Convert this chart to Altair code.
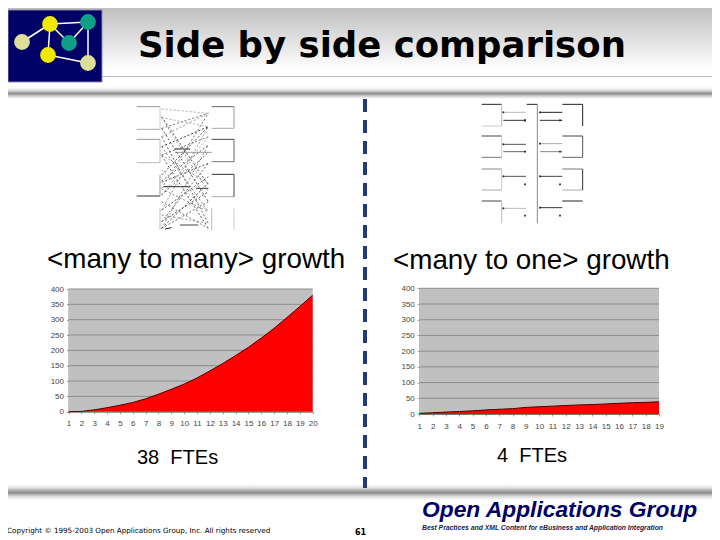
import altair as alt
import pandas as pd

W, H = 704, 532

many_to_many = [0, 1, 6, 13, 21, 30, 42, 57, 73, 90, 110, 133, 157, 183, 210, 240, 272, 307, 343, 380]
many_to_one = [2, 4, 6, 8, 10, 13, 15, 17, 21, 23, 25, 27, 29, 30, 32, 34, 36, 37, 39]
y_ticks = [0, 50, 100, 150, 200, 250, 300, 350, 400]

logo_x = [22, 50, 88, 69, 48, 88]
logo_y = [42, 24, 22, 43, 55, 63]
logo_fill = ["#dede9a", "#f0e800", "#10a088", "#10a088", "#f0e800", "#dede9a"]
logo_edges = [(0, 1), (1, 2), (1, 3), (2, 3), (1, 4), (4, 5), (2, 5)]

# diagram segments: x0, x1, y0, y1, colour (in diagram units)
left_boxes = [
    (20, 90, 35, 35, "#999999"), (20, 90, 103, 103, "#aaaaaa"), (90, 90, 35, 103, "#cccccc"),
    (20, 90, 133, 133, "#999999"), (20, 90, 203, 203, "#bbbbbb"), (90, 90, 133, 203, "#bbbbbb"),
    (20, 90, 303, 303, "#333333"), (90, 90, 240, 303, "#999999"),
    (90, 90, 340, 405, "#bbbbbb"),
    (245, 312, 35, 35, "#666666"), (245, 312, 100, 100, "#aaaaaa"), (312, 312, 35, 100, "#999999"),
    (245, 312, 133, 133, "#444444"), (245, 312, 200, 200, "#777777"), (312, 312, 133, 200, "#666666"),
    (245, 312, 238, 238, "#333333"), (245, 312, 305, 305, "#aaaaaa"), (312, 312, 238, 305, "#444444"),
    (245, 245, 340, 405, "#bbbbbb"), (312, 312, 340, 405, "#cccccc"),
    (135, 180, 162, 162, "#222222"), (135, 245, 172, 172, "#999999"),
    (100, 180, 275, 275, "#222222"), (198, 235, 280, 280, "#333333"),
    (150, 205, 390, 390, "#444444"), (105, 125, 402, 398, "#222222"),
]
left_edges = [
    (95, 235, 42, 55, "#aaaaaa"), (95, 235, 65, 270, "#555555"), (95, 235, 68, 290, "#999999"),
    (95, 235, 68, 95, "#aaaaaa"), (95, 235, 100, 55, "#777777"), (95, 235, 100, 320, "#555555"),
    (95, 235, 125, 55, "#999999"), (95, 235, 125, 385, "#666666"), (95, 235, 155, 95, "#444444"),
    (95, 235, 155, 350, "#888888"), (95, 235, 180, 125, "#777777"), (95, 235, 180, 265, "#999999"),
    (95, 235, 182, 400, "#555555"), (95, 235, 240, 95, "#444444"), (95, 235, 258, 150, "#666666"),
    (95, 235, 262, 205, "#555555"), (95, 235, 280, 55, "#777777"), (95, 235, 282, 350, "#888888"),
    (95, 235, 300, 125, "#aaaaaa"), (95, 235, 300, 172, "#666666"), (95, 235, 345, 245, "#555555"),
    (95, 235, 345, 95, "#999999"), (95, 235, 380, 290, "#444444"), (95, 235, 380, 205, "#777777"),
    (95, 235, 400, 320, "#666666"), (95, 235, 400, 150, "#888888"), (95, 235, 400, 265, "#555555"),
    (95, 235, 360, 385, "#999999"), (95, 235, 320, 400, "#777777"), (95, 235, 225, 350, "#aaaaaa"),
]
right_segments = [
    (20, 80, 28, 28, "#222222"), (20, 80, 93, 93, "#cccccc"), (80, 80, 28, 93, "#bbbbbb"),
    (20, 80, 123, 123, "#444444"), (20, 80, 187, 187, "#777777"), (80, 80, 123, 187, "#cccccc"),
    (20, 80, 222, 222, "#888888"), (20, 80, 285, 285, "#aaaaaa"), (80, 80, 222, 285, "#cccccc"),
    (20, 80, 318, 318, "#444444"), (80, 80, 318, 385, "#bbbbbb"),
    (262, 323, 28, 28, "#222222"), (323, 323, 28, 93, "#222222"),
    (262, 323, 123, 123, "#444444"), (262, 323, 187, 187, "#666666"), (323, 323, 123, 187, "#555555"),
    (262, 323, 222, 222, "#777777"), (262, 323, 285, 285, "#aaaaaa"), (323, 323, 222, 285, "#333333"),
    (262, 323, 318, 318, "#222222"),
    (155, 187, 28, 28, "#222222"), (187, 187, 28, 385, "#888888"),
    (85, 153, 52, 52, "#bbbbbb"), (85, 153, 76, 76, "#333333"),
    (85, 153, 148, 148, "#555555"), (85, 153, 170, 170, "#666666"),
    (85, 153, 244, 244, "#555555"), (85, 153, 340, 340, "#bbbbbb"),
    (195, 262, 52, 52, "#222222"), (195, 262, 76, 76, "#333333"),
    (195, 262, 146, 146, "#aaaaaa"), (195, 262, 170, 170, "#888888"),
    (195, 262, 244, 244, "#444444"), (195, 262, 338, 338, "#333333"),
]
right_dots_x = [85, 150, 85, 150, 85, 150, 150, 85, 150, 195, 255, 195, 255, 195, 255, 195, 255]
right_dots_y = [52, 76, 148, 170, 244, 268, 362, 340, 76, 52, 76, 146, 170, 244, 268, 338, 362]


def px(v):
    return alt.value(v - 8)


def text(t, x, y, size, font="Liberation Sans", weight="normal", style="normal", color="#000000", align="left"):
    return alt.Chart(pd.DataFrame({"t": [t]})).mark_text(
        align=align, baseline="alphabetic", fontSize=size, font=font,
        fontWeight=weight, fontStyle=style, color=color
    ).encode(x=px(x), y=px(y), text="t:N")


def band(y0, y1, stops, color=None):
    return alt.Chart(pd.DataFrame({"a": [0]})).mark_rect(
        color=alt.Gradient(gradient="linear", x1=0, y1=0, x2=0, y2=1,
                           stops=[alt.GradientStop(offset=o, color=c) for o, c in stops])
    ).encode(x=alt.value(0), x2=alt.value(W), y=px(y0), y2=px(y1))


def segments(rows, x_rng, y_rng, dom_x, dom_y, dash=None, width=1.0):
    df = pd.DataFrame(rows, columns=["x0", "x1", "y0", "y1", "c"])
    kw = {"strokeDash": dash} if dash else {}
    return alt.Chart(df).mark_rule(strokeWidth=width, **kw).encode(
        x=alt.X("x0:Q", scale=alt.Scale(domain=dom_x, range=x_rng), axis=None),
        x2="x1:Q",
        y=alt.Y("y0:Q", scale=alt.Scale(domain=dom_y, range=y_rng), axis=None),
        y2="y1:Q",
        color=alt.Color("c:N", scale=None),
    )


def panel(values, x_rng, y_rng, tick_color="#444444"):
    n = len(values)
    xs = list(range(1, n + 1))
    df = pd.DataFrame({"step": xs, "total": values})
    xsc = alt.Scale(domain=[1, n], range=x_rng, nice=False, zero=False)
    ysc = alt.Scale(domain=[0, 400], range=y_rng, nice=False)
    xq = alt.X("step:Q", scale=xsc, axis=None)
    yq = alt.Y("total:Q", scale=ysc, axis=None)
    frame = alt.Chart(pd.DataFrame({"a": [1], "b": [n], "c": [0], "d": [400]})).mark_rect(color="#c0c0c0").encode(
        x=alt.X("a:Q", scale=xsc, axis=None), x2="b:Q",
        y=alt.Y("c:Q", scale=ysc, axis=None), y2="d:Q")
    grid = alt.Chart(pd.DataFrame({"a": [1] * 8, "b": [n] * 8, "total": y_ticks[1:]})).mark_rule(
        color="#8c8c8c", strokeWidth=1).encode(
        x=alt.X("a:Q", scale=xsc, axis=None), x2="b:Q", y=yq)
    area = alt.Chart(df).mark_area(color="#ff0000").encode(x=xq, y=yq)
    line = alt.Chart(df).mark_line(color="#500000", strokeWidth=1).encode(x=xq, y=yq)
    xaxis = alt.Chart(df).mark_point(opacity=0).encode(
        x=alt.X("step:Q", scale=xsc, title=None, axis=alt.Axis(
            orient="bottom", offset=y_rng[0] - H, values=xs, format="d", labelFont="Liberation Sans",
            labelFontSize=8, labelColor=tick_color, labelPadding=6, tickSize=2, tickColor="#999999",
            domainColor="#777777", grid=False, labelFlush=False, labelOverlap=False)),
        y=alt.Y("total:Q", scale=ysc, axis=alt.Axis(
            orient="left", offset=-(x_rng[0]), values=y_ticks, title=None, labelFont="Liberation Sans",
            labelFontSize=8, labelColor=tick_color, labelPadding=3, tickSize=2, tickColor="#999999",
            domainColor="#999999", grid=False, labelFlush=False, labelOverlap=False)),
    )
    return [frame, grid, area, line, xaxis]


# logo
logo_df = pd.DataFrame({"x": logo_x, "y": logo_y, "f": logo_fill})
logo_edge_df = pd.DataFrame([
    {"x0": logo_x[a], "x1": logo_x[b], "y0": logo_y[a], "y1": logo_y[b], "c": "#ffffff"} for a, b in logo_edges
])
lx = alt.Scale(domain=[0, 100], range=[-8, 92])
ly = alt.Scale(domain=[0, 100], range=[-8, 92])
logo_bg = alt.Chart(pd.DataFrame({"a": [0]})).mark_rect(color="#000066", stroke="#8888aa", strokeWidth=1).encode(
    x=px(8), x2=px(102), y=px(10), y2=px(82))
logo_lines = alt.Chart(logo_edge_df).mark_rule(strokeWidth=1.5).encode(
    x=alt.X("x0:Q", scale=lx, axis=None), x2="x1:Q",
    y=alt.Y("y0:Q", scale=ly, axis=None), y2="y1:Q",
    color=alt.Color("c:N", scale=None))
logo_nodes = alt.Chart(logo_df).mark_circle(size=250, opacity=1).encode(
    x=alt.X("x:Q", scale=lx, axis=None), y=alt.Y("y:Q", scale=ly, axis=None),
    color=alt.Color("f:N", scale=None))

# diagrams
dl_x = [130 - 8, 245 - 8]
dl_y = [95 - 8, 95 + 140 - 8]
dr_x = [475 - 8, 590 - 8]
dr_y = [95 - 8, 95 + 130 - 8]
dot_df = pd.DataFrame({"x": right_dots_x, "y": right_dots_y})
right_dots = alt.Chart(dot_df).mark_square(size=3, color="#222222", opacity=1).encode(
    x=alt.X("x:Q", scale=alt.Scale(domain=[0, 345], range=dr_x), axis=None),
    y=alt.Y("y:Q", scale=alt.Scale(domain=[0, 390], range=dr_y), axis=None))

divider = alt.Chart(pd.DataFrame({"a": [0]})).mark_rule(color="#1f3a80", strokeWidth=4, strokeDash=[13, 8]).encode(
    x=px(365), y=px(99), y2=px(488))

layers = [
    band(8, 70, [(0, "#c0c0c0"), (1, "#ffffff")]),
    alt.Chart(pd.DataFrame({"a": [0]})).mark_rule(color="#bdbdbd", strokeWidth=1).encode(
        x=alt.value(0), x2=alt.value(W), y=px(76.5)),
    band(87, 99, [(0, "#ffffff"), (0.25, "#e4e4e4"), (0.55, "#8f8f8f"), (0.75, "#cfcfcf"), (1, "#ffffff")]),
    band(484, 500, [(0, "#ffffff"), (0.2, "#e8e8e8"), (0.55, "#8a8a8a"), (0.75, "#d5d5d5"), (1, "#ffffff")]),
    logo_bg, logo_lines, logo_nodes,
    text("Side by side comparison", 138, 57, 35.5, font="DejaVu Sans", weight="bold"),
    segments(left_boxes, dl_x, dl_y, [0, 345], [0, 420]),
    segments(left_edges, dl_x, dl_y, [0, 345], [0, 420], dash=[2, 2]),
    segments(right_segments, dr_x, dr_y, [0, 345], [0, 390]),
    right_dots,
    divider,
    text("<many to many> growth", 47, 268, 27.8),
    text("<many to one> growth", 393, 269, 27.8),
    text("38\u00a0\u00a0FTEs", 137, 464, 20),
    text("4\u00a0\u00a0FTEs", 497, 462, 20),
    text("Copyright © 1995-2003 Open Applications Group, Inc.  All rights reserved", 7, 533, 7.2, font="DejaVu Sans"),
    text("61", 355, 535, 8, font="DejaVu Sans", weight="bold"),
    text("Open Applications Group", 422, 517, 22.8, weight="bold", style="italic", color="#000066"),
    text("Best Practices and XML Content for eBusiness and Application Integration", 422, 530, 6.8,
         weight="bold", style="italic", color="#222244"),
]
layers += panel(many_to_many, [68.5 - 8, 312.7 - 8], [411.7 - 8, 289 - 8])
layers += panel(many_to_one, [419.3 - 8, 659 - 8], [414 - 8, 288.3 - 8])

chart = alt.layer(*layers).resolve_scale(x="independent", y="independent").properties(
    width=W, height=H, padding=0, autosize=alt.AutoSizeParams(type="none"),
    background="white",
).configure_view(stroke=None)

chart.save("out.html", embed_options={"renderer": "svg", "actions": False})
